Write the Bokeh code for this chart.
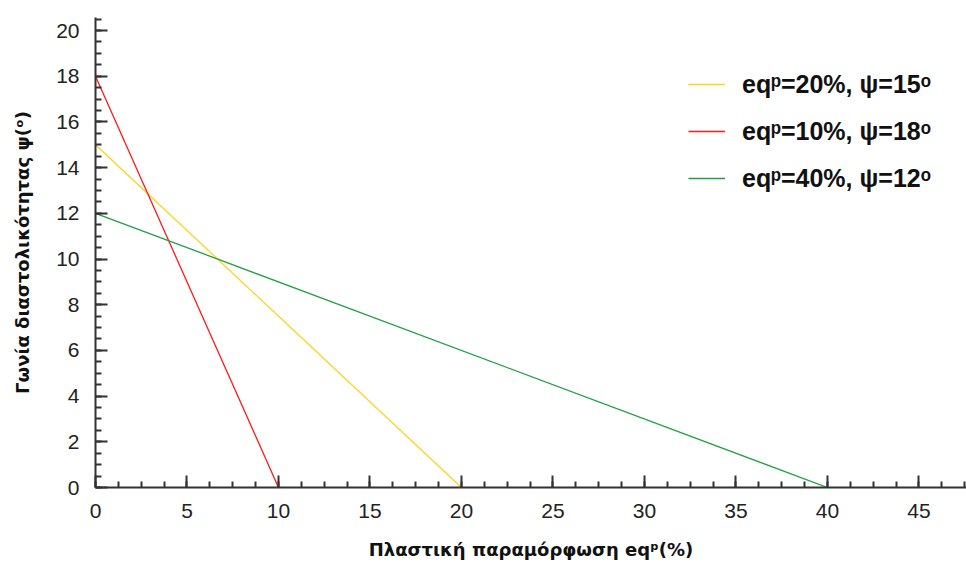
from bokeh.plotting import figure
from bokeh.models import Range1d, SingleIntervalTicker, Legend, LegendItem
from bokeh.embed import file_html
from bokeh.resources import INLINE

# Dilatancy angle vs plastic strain: linear decay to zero
x_yellow = [0, 20]
y_yellow = [15, 0]
x_red = [0, 10]
y_red = [18, 0]
x_green = [0, 40]
y_green = [12, 0]

labels = ["eqᵖ=20%, ψ=15ᵒ", "eqᵖ=10%, ψ=18ᵒ", "eqᵖ=40%, ψ=12ᵒ"]
colors = ["#FFD21E", "#FF1A1A", "#1FA043"]

p = figure(width=966, height=563, output_backend="svg", toolbar_location=None,
           x_range=Range1d(0, 47.6), y_range=Range1d(0, 20.57),
           min_border_left=95, min_border_right=0, min_border_top=17,
           min_border_bottom=76)
p.outline_line_color = None
p.xgrid.grid_line_color = None
p.ygrid.grid_line_color = None
p.background_fill_color = "white"
p.border_fill_color = "white"

r1 = p.line(x_yellow, y_yellow, line_color=colors[0], line_width=1.3)
r2 = p.line(x_red, y_red, line_color=colors[1], line_width=1.3)
r3 = p.line(x_green, y_green, line_color=colors[2], line_width=1.3)

p.xaxis.ticker = SingleIntervalTicker(interval=5, num_minor_ticks=4)
p.yaxis.ticker = SingleIntervalTicker(interval=2, num_minor_ticks=4)

for ax in (p.xaxis[0], p.yaxis[0]):
    ax.axis_line_color = "#333333"
    ax.axis_line_width = 2
    ax.major_tick_line_color = "#333333"
    ax.minor_tick_line_color = "#333333"
    ax.major_tick_line_width = 2
    ax.minor_tick_line_width = 2
    ax.major_tick_in = 12
    ax.major_tick_out = 0
    ax.minor_tick_in = 6
    ax.minor_tick_out = 0
    ax.major_label_text_font = "Liberation Sans"
    ax.major_label_text_font_size = "21px"
    ax.major_label_text_color = "#222222"
    ax.axis_label_text_font = "DejaVu Sans"
    ax.axis_label_text_font_style = "bold"
    ax.axis_label_text_font_size = "18px"
    ax.axis_label_text_color = "#111111"

p.xaxis.axis_label = "Πλαστική παραμόρφωση eqᵖ(%)"
p.yaxis.axis_label = "Γωνία διαστολικότητας ψ(ᵒ)"
p.xaxis.major_label_standoff = 16
p.yaxis.major_label_standoff = 16
p.xaxis.axis_label_standoff = 18
p.yaxis.axis_label_standoff = 20

legend = Legend(items=[LegendItem(label=labels[0], renderers=[r1]),
                       LegendItem(label=labels[1], renderers=[r2]),
                       LegendItem(label=labels[2], renderers=[r3])],
                location=(593, 294))
legend.border_line_color = None
legend.background_fill_alpha = 0
legend.padding = 0
legend.margin = 0
legend.spacing = 17
legend.glyph_width = 37
legend.glyph_height = 30
legend.label_height = 30
legend.label_standoff = 17
legend.label_text_font = "Liberation Sans"
legend.label_text_font_style = "bold"
legend.label_text_font_size = "25px"
legend.label_text_color = "#111111"
p.add_layout(legend, "center")

open("out.html", "w").write(file_html(p, INLINE))
